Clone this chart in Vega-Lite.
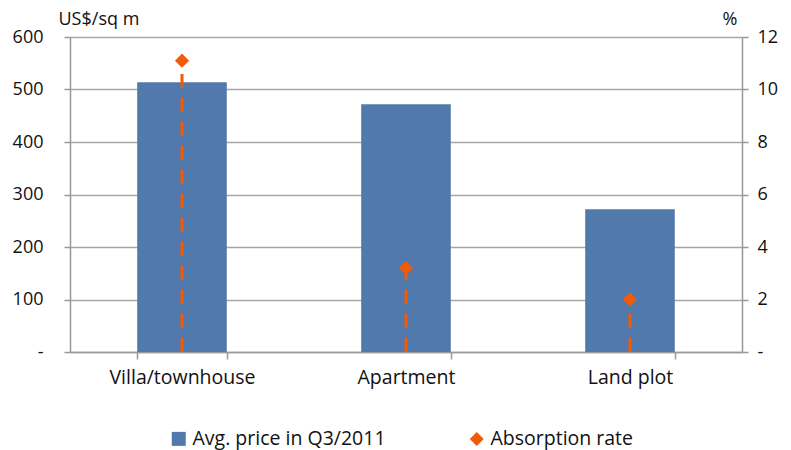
{
  "$schema": "https://vega.github.io/schema/vega-lite/v6.json",
  "width": 672,
  "height": 315,
  "autosize": {"type": "none"},
  "padding": {"left": 70, "top": 37, "right": 49, "bottom": 98},
  "background": "white",
  "config": {
    "font": "Open Sans",
    "view": {"stroke": null},
    "axis": {"labelFontSize": 18, "labelColor": "#111", "titleColor": "#111", "titleFontSize": 18, "titleFontWeight": "normal", "domainColor": "#999", "tickColor": "#999", "gridColor": "#A6A6A6", "domainWidth": 1.5, "tickWidth": 1.5, "gridWidth": 1.5}
  },
  "data": {
    "values": [
      {"category": "Villa/townhouse", "price": 514, "absorption": 11.1},
      {"category": "Apartment", "price": 472, "absorption": 3.2},
      {"category": "Land plot", "price": 272, "absorption": 2.0}
    ]
  },
  "encoding": {
    "x": {
      "field": "category", "type": "nominal", "sort": null,
      "scale": {"paddingInner": 0.6, "paddingOuter": 0.3},
      "axis": {"title": null, "labelAngle": 0, "tickBand": "extent", "tickSize": 7, "labelPadding": 9, "labelFontSize": 19.5, "grid": false}
    }
  },
  "layer": [
    {
      "mark": {"type": "bar", "color": "#5279AB"},
      "transform": [{"calculate": "'Avg. price in Q3/2011'", "as": "series"}],
      "encoding": {
        "y": {
          "field": "price", "type": "quantitative",
          "scale": {"domain": [0, 600]},
          "axis": {"title": "US$/sq m", "titleAngle": 0, "titleAlign": "left", "titleBaseline": "alphabetic", "titleX": -12, "titleY": -13, "values": [0,100,200,300,400,500,600], "labelOverlap": false, "labelExpr": "datum.value == 0 ? '-' : datum.label", "tickSize": 6, "labelPadding": 21, "grid": true}
        },
        "color": {"field": "series", "type": "nominal", "sort": null, "scale": {"domain": ["Avg. price in Q3/2011", "Absorption rate"], "range": ["#5279AB", "#F25A0A"]}}
      }
    },
    {
      "layer": [
        {
          "mark": {"type": "rule", "color": "#F25A0A", "strokeWidth": 3, "strokeDash": [14, 10], "strokeDashOffset": {"expr": "(((14 - datum.absorption * 315 / 12) % 24) + 24) % 24"}},
          "encoding": {
            "y": {"field": "absorption", "type": "quantitative", "scale": {"domain": [0, 12]}, "axis": {"title": "%", "orient": "right", "titleAngle": 0, "titleAlign": "left", "titleBaseline": "alphabetic", "titleX": -20, "titleY": -13, "values": [0,2,4,6,8,10,12], "labelOverlap": false, "labelExpr": "datum.value == 0 ? '-' : datum.label", "tickSize": 6, "labelPadding": 9, "grid": false}},
            "y2": {"datum": 0}
          }
        },
        {
          "mark": {"type": "point", "shape": "diamond", "filled": true, "size": 200, "color": "#F25A0A", "opacity": 1},
          "encoding": {
            "y": {"field": "absorption", "type": "quantitative"}
          }
        }
      ]
    },
    {
      "data": {"values": [{"series": "Avg. price in Q3/2011"}, {"series": "Absorption rate"}]},
      "mark": {"type": "point", "size": 0, "filled": true, "opacity": 1},
      "encoding": {
        "x": {"value": 0},
        "y": {"value": 0},
        "color": {"field": "series", "type": "nominal", "sort": null,
          "legend": {"title": null, "orient": "none", "legendX": 99, "legendY": 392, "direction": "horizontal", "labelFontSize": 19.5, "labelColor": "#111", "labelLimit": 400, "symbolOpacity": 1, "columnPadding": 80, "symbolSize": 196, "labelOffset": 4, "padding": 0}},
        "shape": {"field": "series", "type": "nominal", "sort": null, "scale": {"domain": ["Avg. price in Q3/2011", "Absorption rate"], "range": ["square", "diamond"]}}
      }
    }
  ],
  "resolve": {"scale": {"y": "independent"}}
}
